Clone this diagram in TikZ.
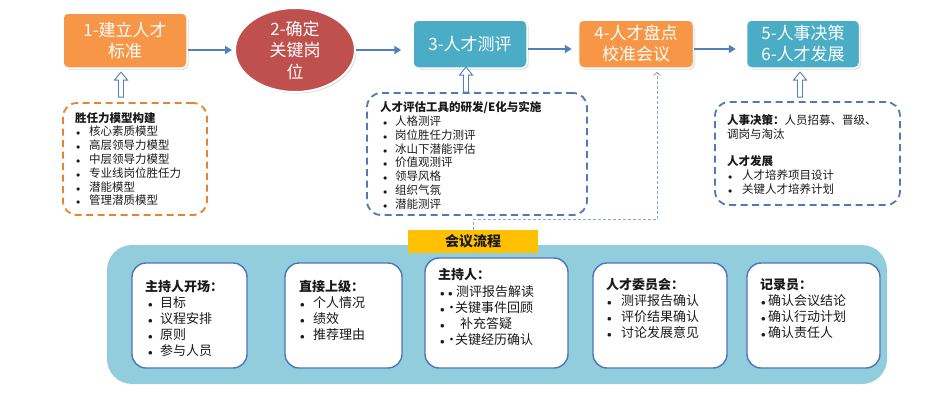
\documentclass[tikz,border=0pt]{standalone}
\usepackage{fontspec}
\setmainfont{Noto Sans CJK SC}
\usetikzlibrary{shadows,calc,arrows.meta,shapes.geometric}
\definecolor{cOrg}{HTML}{F79646}
\definecolor{cTeal}{HTML}{4BACC6}
\definecolor{cRed}{HTML}{C0504D}
\definecolor{cArrow}{HTML}{4F81BD}
\definecolor{cDOr}{HTML}{E8822F}
\definecolor{cDBl}{HTML}{5079B5}
\definecolor{cBg}{HTML}{92CDDD}
\definecolor{cInner}{HTML}{4A76B8}
\definecolor{cLbl}{HTML}{FFC000}
\definecolor{cConn}{HTML}{8FA8CF}
\definecolor{cTxt}{HTML}{1A1A1A}
\newcommand\itm[3]{\makebox[#1][l]{\hspace{#2}$\scriptstyle\bullet$}#3}
\begin{document}
\begin{tikzpicture}[x=1pt,y=-1pt,
  topbox/.style={rectangle, rounded corners=5pt, draw=white, line width=1.5pt,
    text=white, align=center, font=\fontsize{17}{21}\selectfont, inner sep=0pt,
    drop shadow={shadow xshift=1.5pt,shadow yshift=-1.5pt,opacity=0.3}},
  flow/.style={draw=cArrow, line width=2.2pt, -{Triangle[length=7pt,width=8pt]}},
  dbox/.style={rectangle, rounded corners=14pt, line width=1.8pt, dash pattern=on 7pt off 4.5pt, inner sep=0pt},
  lst/.style={inner sep=0pt, align=left, anchor=north west, text=cTxt, font=\fontsize{11.5}{13.8}\selectfont},
  blst/.style={inner sep=0pt, align=left, anchor=north west, text=cTxt, font=\fontsize{13}{16}\selectfont},
  inbox/.style={rectangle, rounded corners=14pt, draw=cInner, line width=1.4pt, fill=white, inner sep=0pt},
  conn/.style={draw=cConn, line width=0.9pt, dash pattern=on 3pt off 2pt, -{Straight Barb[length=3pt,width=7pt]}},
  hup/.pic={\draw[cArrow, fill=white, line width=0.9pt] (-2.5,0) -- (-2.5,-17) -- (-6.5,-17) -- (0,-25) -- (6.5,-17) -- (2.5,-17) -- (2.5,0) -- cycle;}
]
\useasboundingbox (0,0) rectangle (926,402);

% top row
\node[topbox, fill=cOrg, minimum width=124, minimum height=55] (s1) at (125,40.5) {1-建立人才\\标准};
\node[ellipse, fill=cRed, draw=white, line width=2pt, minimum width=120, minimum height=84,
  text=white, align=center, font=\fontsize{17}{21.5}\selectfont, inner sep=0pt,
  drop shadow={shadow xshift=1.5pt,shadow yshift=-1.5pt,opacity=0.3}] (s2) at (295,50) {2-确定\\关键岗\\位};
\node[topbox, fill=cTeal, minimum width=114, minimum height=48] (s3) at (470,44) {3-人才测评};
\node[topbox, fill=cOrg, minimum width=115, minimum height=48] (s4) at (636,44) {4-人才盘点\\校准会议};
\node[topbox, fill=cTeal, minimum width=113, minimum height=48] (s5) at (803,44) {5-人事决策\\6-人才发展};

\draw[flow] (s1.east |- s2.west) -- ([xshift=-2pt]s2.west);
\draw[flow] (s2.east) -- ([xshift=-11pt]s3.west |- s2.east);
\draw[flow] ([yshift=-5pt]s3.east) -- ([xshift=-6pt,yshift=-5pt]s4.west);
\draw[flow] ([yshift=-5pt]s4.east) -- ([xshift=-10pt,yshift=-5pt]s5.west);

% dashed boxes
\node[dbox, draw=cDOr, minimum width=144, minimum height=112] (d1) at (135,159) {};
\node[dbox, draw=cDBl, minimum width=220, minimum height=122] (d3) at (477,154) {};
\node[dbox, draw=cDBl, minimum width=185, minimum height=103] (d5) at (807.5,153.5) {};

\node[lst] (t1) at (75,112) {\textbf{胜任力模型构建}\\
  \itm{14pt}{1pt}{核心素质模型}\\
  \itm{14pt}{1pt}{高层领导力模型}\\
  \itm{14pt}{1pt}{中层领导力模型}\\
  \itm{14pt}{1pt}{专业线岗位胜任力}\\
  \itm{14pt}{1pt}{潜能模型}\\
  \itm{14pt}{1pt}{管理潜质模型}};
\node[lst] (t3) at (380,101.5) {\textbf{人才评估工具的研发/E化与实施}\\
  \itm{15pt}{3pt}{人格测评}\\
  \itm{15pt}{3pt}{岗位胜任力测评}\\
  \itm{15pt}{3pt}{冰山下潜能评估}\\
  \itm{15pt}{3pt}{价值观测评}\\
  \itm{15pt}{3pt}{领导风格}\\
  \itm{15pt}{3pt}{组织气氛}\\
  \itm{15pt}{3pt}{潜能测评}};
\node[lst] (t5) at (727,114.5) {\textbf{人事决策：}人员招募、晋级、\\
  调岗与淘汰\\[13.6pt]
  \textbf{人才发展}\\
  \itm{15pt}{1pt}{人才培养项目设计}\\
  \itm{15pt}{1pt}{关键人才培养计划}};

\pic at ([xshift=-4pt,yshift=5pt]s1.south |- d1.north) {hup};
\pic at ([xshift=-4pt]s3.south |- d3.north) {hup};
\pic at ([xshift=-3pt,yshift=4pt]s5.south |- d5.north) {hup};

% bottom panel
\node[rectangle, rounded corners=25pt, fill=cBg, minimum width=780, minimum height=139, inner sep=0pt] (bg) at (497,314.5) {};
\node[fill=cLbl, minimum width=130, minimum height=23, inner sep=0pt, text=cTxt,
  font=\bfseries\fontsize{14}{16}\selectfont] (lbl) at (473,241.5) {会议流程};
\draw[conn] (lbl.north) -- ++(0,-10) -| ([xshift=21pt,yshift=-3pt]s4.south);

\node[inbox, minimum width=115, minimum height=105] (ba) at (189.5,315.5) {};
\node[inbox, minimum width=117, minimum height=105] (bb) at (343.5,315.5) {};
\node[inbox, minimum width=143, minimum height=110] (bc) at (496.5,313) {};
\node[inbox, minimum width=134, minimum height=105] (bd) at (660,315.5) {};
\node[inbox, minimum width=133, minimum height=105] (be) at (813.5,315.5) {};

\node[blst] (ta) at (145,280.5) {\textbf{主持人开场：}\\
  \itm{15pt}{3pt}{目标}\\
  \itm{15pt}{3pt}{议程安排}\\
  \itm{15pt}{3pt}{原则}\\
  \itm{15pt}{3pt}{参与人员}};
\node[blst] (tb) at (299,280.5) {\textbf{直接上级：}\\
  \itm{14pt}{1pt}{个人情况}\\
  \itm{14pt}{1pt}{绩效}\\
  \itm{14pt}{1pt}{推荐理由}};
\node[blst, font=\fontsize{13}{16.2}\selectfont] (tc) at (438,268.5) {\textbf{主持人：}\\
  \itm{10pt}{2pt}{\makebox[8pt][l]{$\scriptstyle\bullet$}测评报告解读}\\
  \itm{10pt}{2pt}{\makebox[7pt][c]{·}关键事件回顾}\\
  \itm{10pt}{2pt}{\hspace{12pt}补充答疑}\\
  \itm{10pt}{2pt}{\makebox[7pt][c]{·}关键经历确认}};
\node[blst] (td) at (606,278.5) {\textbf{人才委员会：}\\
  \itm{15pt}{1pt}{测评报告确认}\\
  \itm{15pt}{1pt}{评价结果确认}\\
  \itm{15pt}{1pt}{讨论发展意见}};
\node[blst] (te) at (760,278.5) {\textbf{记录员：}\\
  \itm{8pt}{1pt}{确认会议结论}\\
  \itm{8pt}{1pt}{确认行动计划}\\
  \itm{8pt}{1pt}{确认责任人}};
\end{tikzpicture}
\end{document}
